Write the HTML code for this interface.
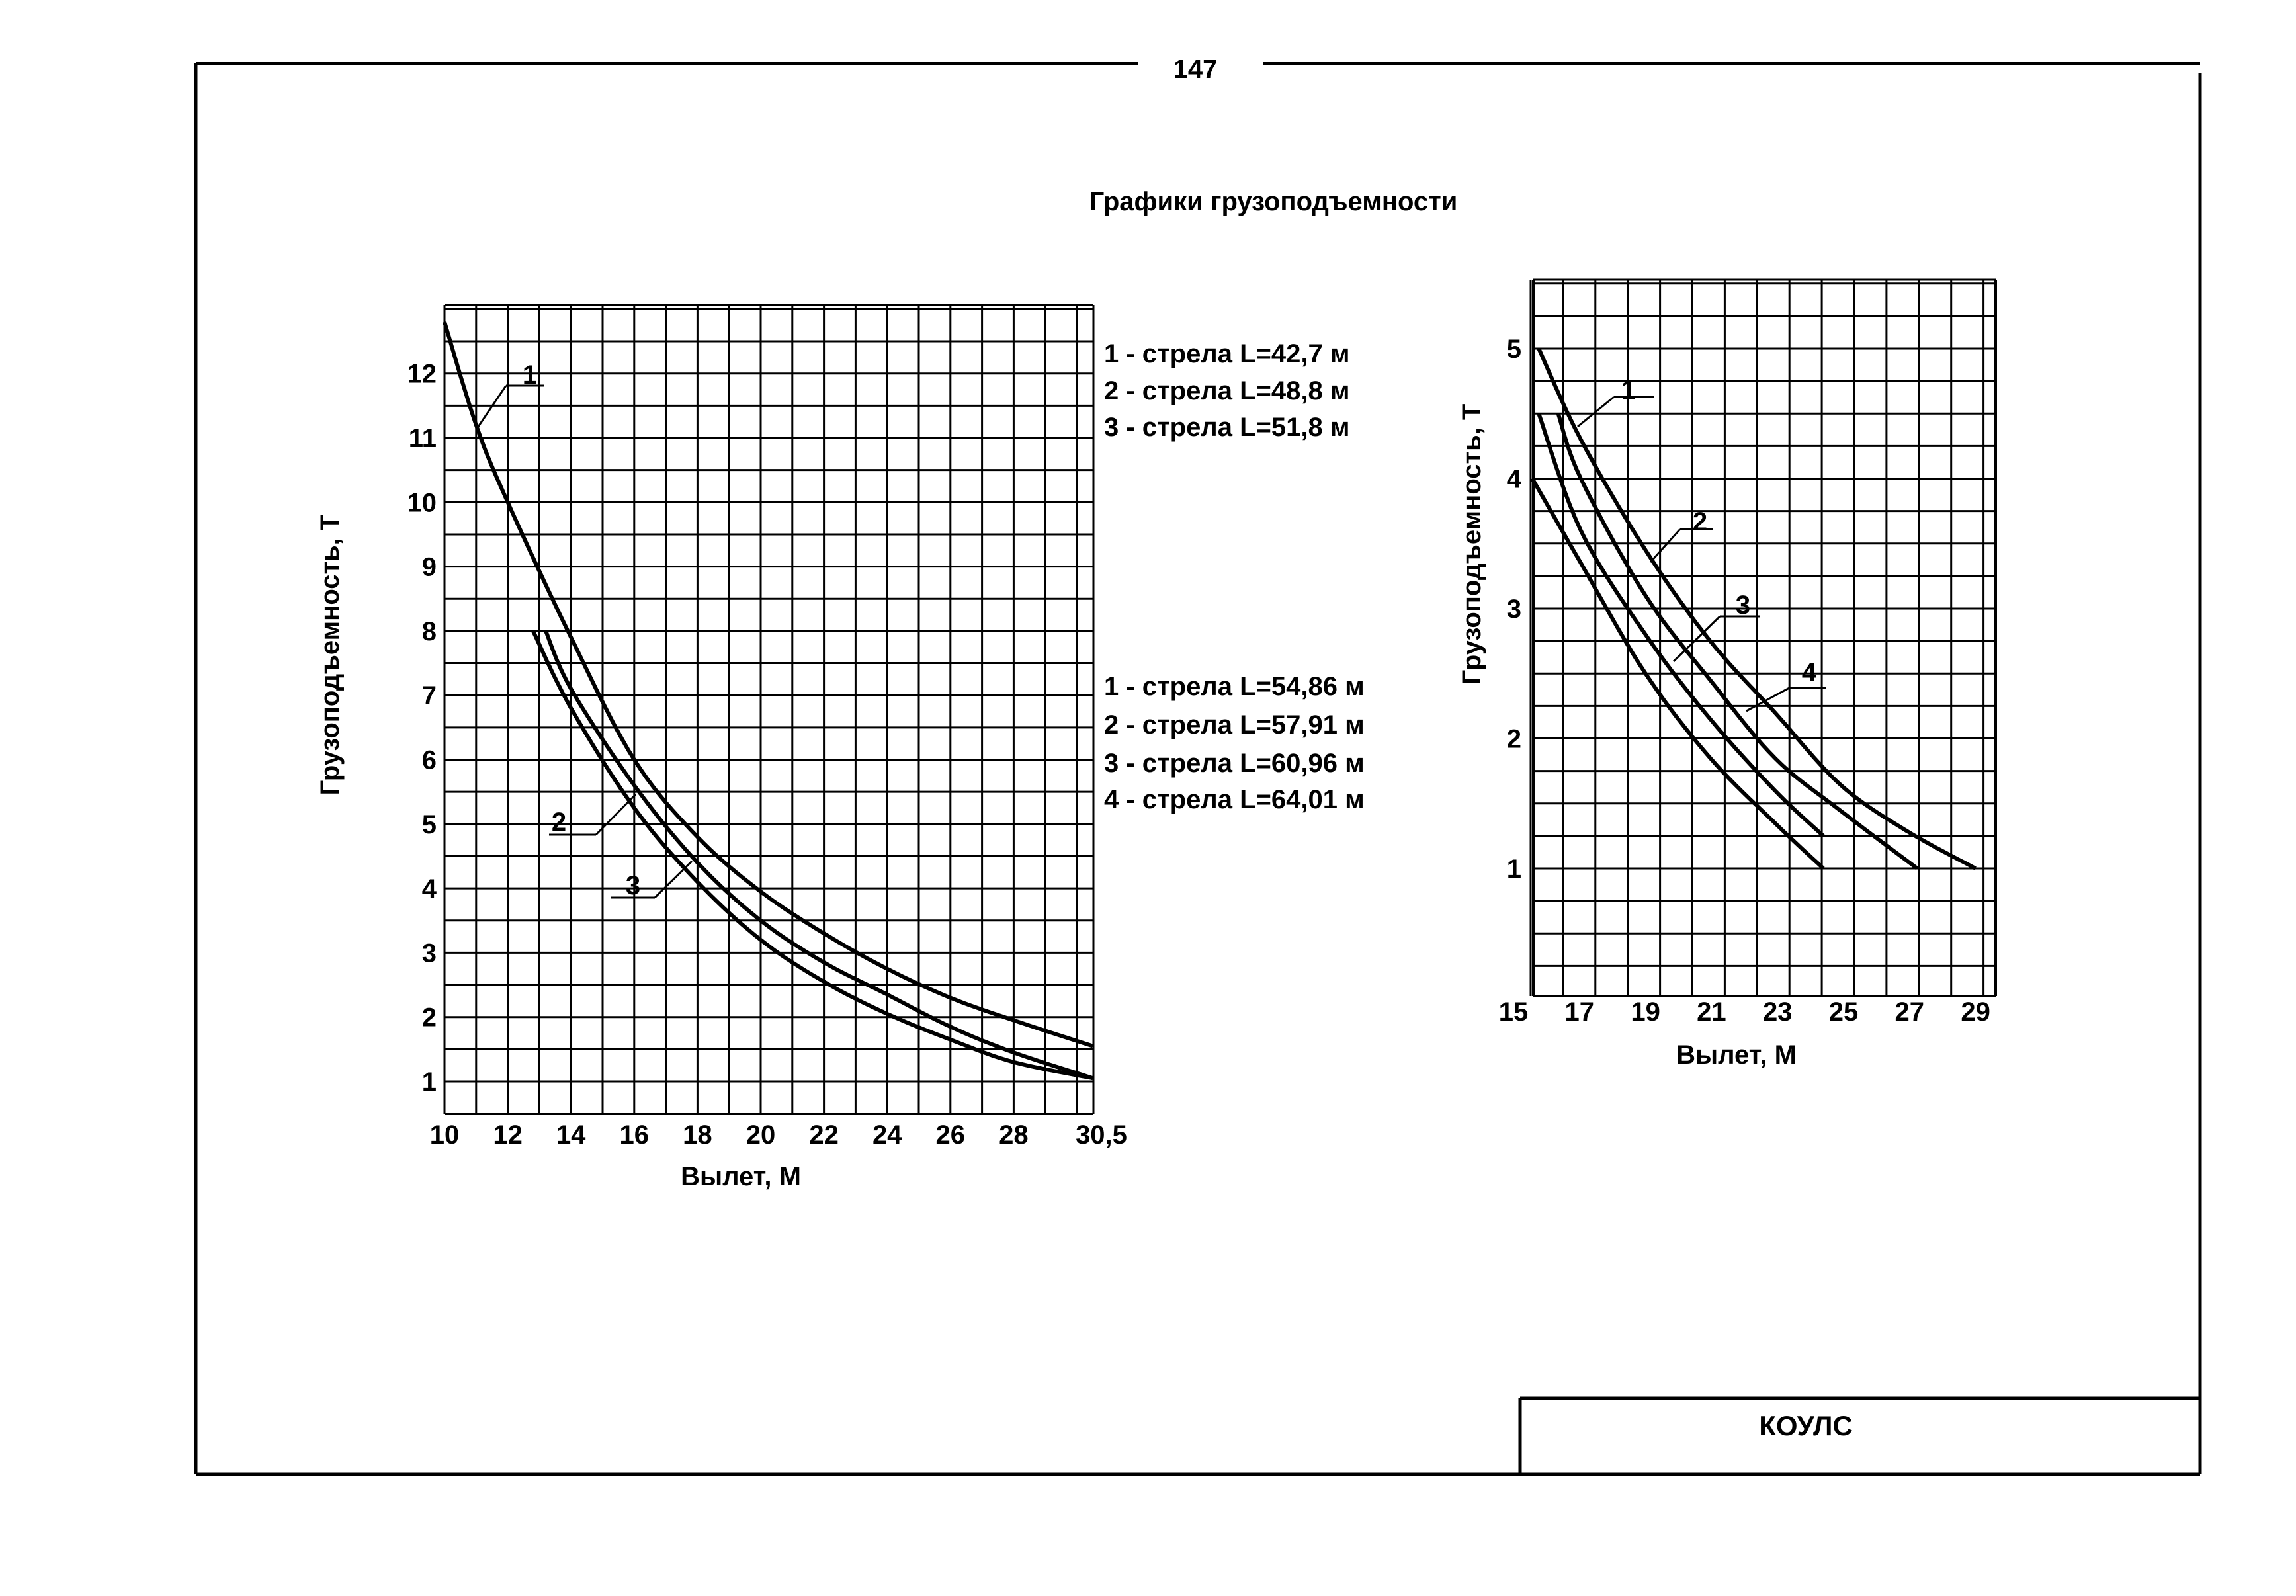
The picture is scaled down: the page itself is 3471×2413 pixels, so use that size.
<!DOCTYPE html>
<html><head><meta charset="utf-8"><style>
body{margin:0;background:#fff}
svg{display:block}
text{font-family:"Liberation Sans","DejaVu Sans",sans-serif;font-weight:bold;fill:#000}
</style></head><body>
<svg id="s" width="3471" height="2413" xmlns="http://www.w3.org/2000/svg">
<g stroke="#000" fill="none">
<line x1="296" y1="96" x2="1720" y2="96" stroke-width="5"/>
<line x1="1910" y1="96" x2="3326" y2="96" stroke-width="5"/>
<line x1="296" y1="96" x2="296" y2="2229" stroke-width="5"/>
<line x1="3326" y1="110" x2="3326" y2="2229" stroke-width="5"/>
<line x1="296" y1="2229" x2="3326" y2="2229" stroke-width="5"/>
<line x1="2298" y1="2114" x2="3326" y2="2114" stroke-width="5"/>
<line x1="2298" y1="2114" x2="2298" y2="2229" stroke-width="5"/>
</g>
<text x="1807" y="118" font-size="40" text-anchor="middle">147</text>
<text x="1925" y="318" font-size="40" text-anchor="middle">Графики грузоподъемности</text>
<text x="2730" y="2170" font-size="42" text-anchor="middle">КОУЛС</text>
<g id="g"></g>
<g font-size="40">
<text x="1669" y="548">1 - стрела L=42,7  м</text>
<text x="1669" y="604">2 - стрела L=48,8 м</text>
<text x="1669" y="659">3 - стрела L=51,8 м</text>
<text x="1669" y="1051">1 - стрела L=54,86 м</text>
<text x="1669" y="1109">2 - стрела L=57,91 м</text>
<text x="1669" y="1167">3 - стрела L=60,96 м</text>
<text x="1669" y="1222">4 - стрела L=64,01 м</text>
</g>
<text font-size="40" transform="translate(512,990) rotate(-90)" text-anchor="middle">Грузоподъемность, Т</text>
<text font-size="40" transform="translate(2238,823) rotate(-90)" text-anchor="middle">Грузоподъемность, Т</text>
<text x="1120" y="1792" font-size="40" text-anchor="middle">Вылет, М</text>
<text x="2625" y="1608" font-size="40" text-anchor="middle">Вылет, М</text>
</svg>
<script>
var g=document.getElementById('g'),NS='http://www.w3.org/2000/svg';
function el(t,a,txt){var e=document.createElementNS(NS,t);for(var k in a)e.setAttribute(k,a[k]);if(txt!==undefined)e.textContent=txt;g.appendChild(e);return e;}
function line(x1,y1,x2,y2,w){el('line',{x1:x1,y1:y1,x2:x2,y2:y2,stroke:'#000','stroke-width':w||3});}
function curve(pts,X,Y,w){var d='';for(var i=0;i<pts.length-1;i++){var p0=pts[Math.max(i-1,0)],p1=pts[i],p2=pts[i+1],p3=pts[Math.min(i+2,pts.length-1)];for(var t=0;t<=1.001;t+=0.1){var t2=t*t,t3=t2*t;var f=function(a,b,c,d){return 0.5*(2*b+(-a+c)*t+(2*a-5*b+4*c-d)*t2+(-a+3*b-3*c+d)*t3)};var x=f(p0[0],p1[0],p2[0],p3[0]),y=f(p0[1],p1[1],p2[1],p3[1]);d+=(d?'L':'M')+X(x).toFixed(1)+','+Y(y).toFixed(1);}}el('path',{d:d,stroke:'#000','stroke-width':w||6,fill:'none'});}
// Left chart
var LX=function(x){return 672+(x-10)*47.8},LY=function(v){return 1635-(v-1)*97.3};
var l=672,r=1653,tp=461,bt=1684;
for(var x=10;x<=30.01;x+=1)line(LX(x),tp,LX(x),bt,3);
line(r,tp,r,bt,3);
for(var v=0.5;v<=13.1;v+=0.5){var y=LY(v);if(y>=tp-1&&y<=bt+1)line(l,y,r,y,3);}
line(l,tp,r,tp,3);line(l,bt,r,bt,4);
for(var v=1;v<=12;v++)el('text',{x:660,y:LY(v)+14,'font-size':40,'text-anchor':'end'},v);
[10,12,14,16,18,20,22,24,26,28].forEach(function(x){el('text',{x:LX(x),y:1729,'font-size':40,'text-anchor':'middle'},x)});
el('text',{x:1665,y:1729,'font-size':40,'text-anchor':'middle'},'30,5');
curve([[10,12.8],[11,11.2],[12,10],[14,7.9],[16,6],[18,4.8],[20,3.95],[22,3.3],[24,2.75],[26,2.3],[28,1.95],[30.5,1.55]],LX,LY);
curve([[13.2,8],[14,7.1],[16,5.6],[18,4.4],[20,3.5],[22,2.85],[24,2.35],[26,1.85],[28,1.45],[30.5,1.05]],LX,LY);
curve([[12.8,8],[14,6.8],[16,5.25],[18,4.1],[20,3.2],[22,2.55],[24,2.05],[26,1.65],[28,1.3],[30.5,1.05]],LX,LY);
el('text',{x:801,y:580,'font-size':40,'text-anchor':'middle'},'1');line(765,583,823,583,3);line(723,645,765,583,3);
el('text',{x:845,y:1256,'font-size':40,'text-anchor':'middle'},'2');line(830,1262,901,1262,3);line(901,1262,961,1201,3);
el('text',{x:957,y:1352,'font-size':40,'text-anchor':'middle'},'3');line(923,1357,990,1357,3);line(990,1357,1046,1302,3);
// Right chart
var RX=function(x){return 2314+(x-15)*48.9},RY=function(v){return 1313-(v-1)*196.5};
var rl=2318,rr=3017,rt=423,rb=1506;
for(var x=15;x<=29.01;x+=1)line(RX(x),rt,RX(x),rb,3);
line(rl,rt,rl,rb,4);line(rr,rt,rr,rb,4);
for(var v=0;v<=5.6;v+=0.25){var y=RY(v);if(y>=rt&&y<=rb)line(rl,y,rr,y,3);}
line(rl,rt,rr,rt,3);line(rl,rb,rr,rb,4);
for(var v=1;v<=5;v++)el('text',{x:2300,y:RY(v)+14,'font-size':40,'text-anchor':'end'},v);
[15,17,19,21,23,25,27,29].forEach(function(x,i){el('text',{x:RX(x)-26+i*2,y:1543,'font-size':40,'text-anchor':'middle'},x)});
var sh=function(a){return a.map(function(p){return [p[0]-0.45,p[1]]})};
curve(sh([[15.7,5],[17,4.3],[19,3.45],[21,2.75],[23,2.2],[25,1.65],[27,1.3],[29.2,1.0]]),RX,RY);
curve(sh([[16.3,4.5],[17,4.0],[19,3.1],[21,2.45],[23,1.85],[25,1.45],[27.4,1.0]]),RX,RY);
curve(sh([[15.7,4.5],[17,3.6],[19,2.8],[21,2.15],[23,1.6],[24.5,1.25]]),RX,RY);
curve(sh([[15.5,4.0],[17,3.35],[19,2.5],[21,1.85],[23,1.35],[24.5,1.0]]),RX,RY);
el('text',{x:2462,y:603,'font-size':40,'text-anchor':'middle'},'1');line(2440,600,2500,600,3);line(2385,645,2440,600,3);
el('text',{x:2570,y:802,'font-size':40,'text-anchor':'middle'},'2');line(2540,800,2590,800,3);line(2495,850,2540,800,3);
el('text',{x:2635,y:928,'font-size':40,'text-anchor':'middle'},'3');line(2600,932,2660,932,3);line(2530,1000,2600,932,3);
el('text',{x:2735,y:1030,'font-size':40,'text-anchor':'middle'},'4');line(2705,1040,2760,1040,3);line(2640,1075,2705,1040,3);
</script>
</body></html>
